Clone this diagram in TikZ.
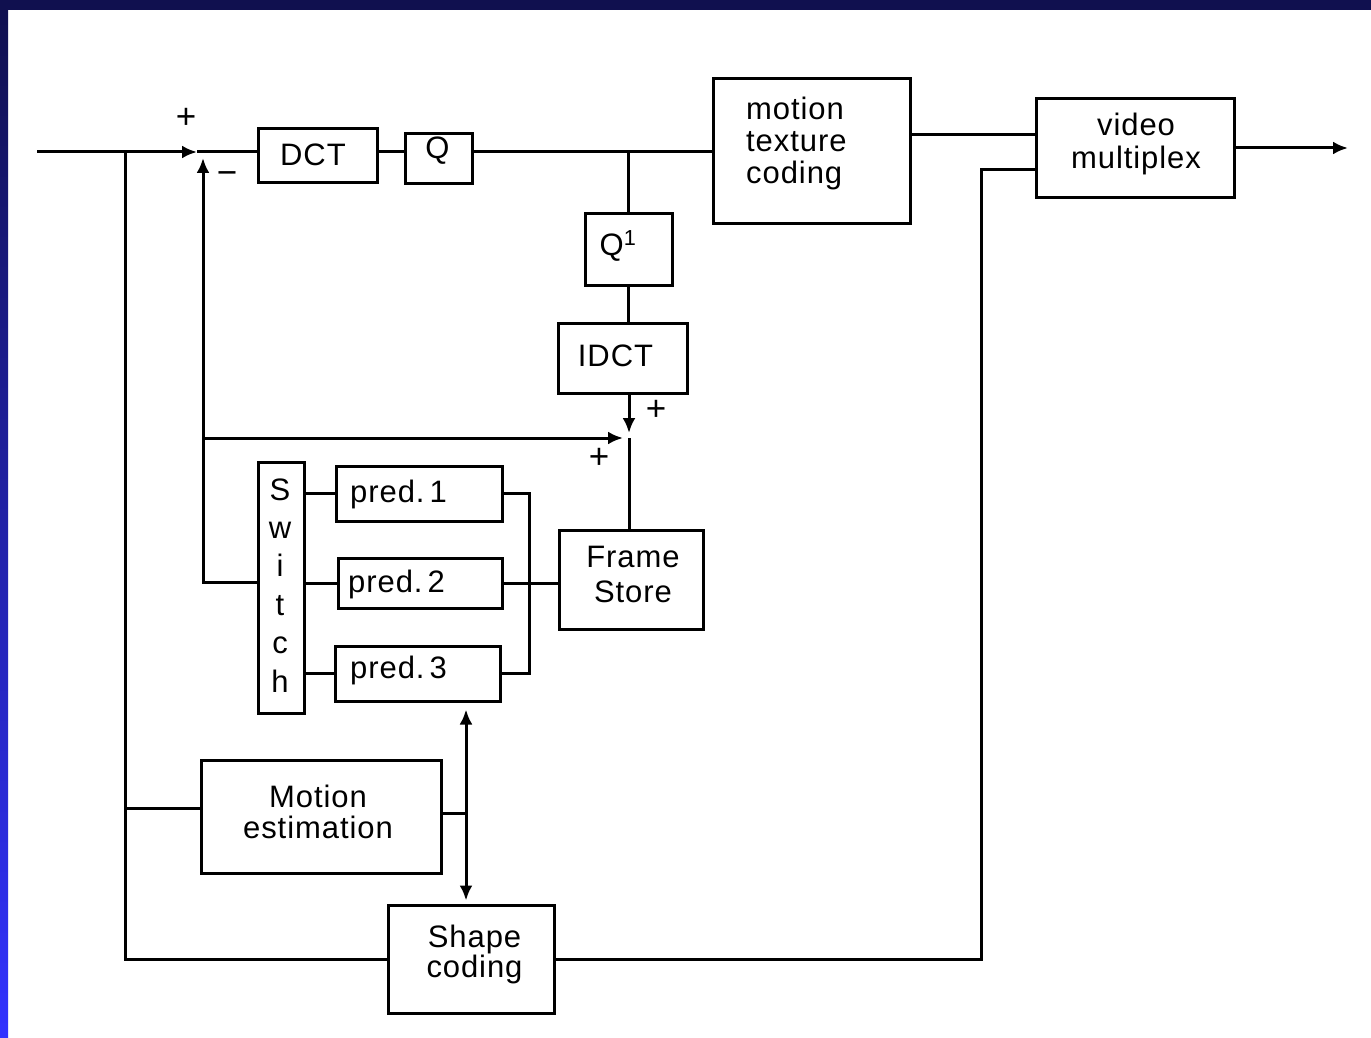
\documentclass[tikz,border=0pt]{standalone}
\usepackage{fontspec}
\setmainfont{Liberation Sans}[LetterSpace=3]
\usetikzlibrary{arrows.meta}
\definecolor{navyband}{HTML}{10104F}
\definecolor{blueband}{HTML}{3232FF}
\begin{document}
\begin{tikzpicture}[x=1pt,y=-1pt,
  blk/.style={draw, line width=3pt, inner sep=0pt, anchor=center},
  lbl/.style={font=\fontsize{31}{33}\selectfont, inner sep=0pt, anchor=base},
  sgn/.style={font=\fontsize{35}{37}\selectfont, inner sep=0pt, anchor=center},
  wire/.style={line width=3pt},
  arr/.style={wire, -{Latex[length=15pt,width=13pt]}},
  darr/.style={wire, {Latex[length=15pt,width=13pt]}-{Latex[length=15pt,width=13pt]}}]
\useasboundingbox (0,0) rectangle (1371,1038);
\fill[white] (0,0) rectangle (1371,1038);
\fill[navyband] (0,0) rectangle (1371,10);
\shade[top color=navyband, bottom color=blueband] (0,10) rectangle (8,1038);

% boxes
\node[blk, minimum width=119, minimum height=53] (dct) at (317.5,155.5) {};
\node[blk, minimum width=67, minimum height=49] (q) at (438.5,158.5) {};
\node[blk, minimum width=197, minimum height=144] (mtc) at (811.5,151) {};
\node[blk, minimum width=198, minimum height=98] (vm) at (1135,148) {};
\node[blk, minimum width=87, minimum height=72] (qi) at (628.5,249) {};
\node[blk, minimum width=129, minimum height=70] (idct) at (622.5,358) {};
\node[blk, minimum width=144, minimum height=99] (fs) at (631,579.5) {};
\node[blk, minimum width=46, minimum height=251] (sw) at (281,587.5) {};
\node[blk, minimum width=166, minimum height=55] (p1) at (419,493.5) {};
\node[blk, minimum width=164, minimum height=50] (p2) at (420,583) {};
\node[blk, minimum width=165, minimum height=55] (p3) at (417.5,673.5) {};
\node[blk, minimum width=240, minimum height=113] (me) at (321,816.5) {};
\node[blk, minimum width=166, minimum height=108] (sc) at (471,959) {};

% texts (multi-line nodes: base = last line)
\node[lbl] (dctt) at (313,166) {DCT};
\node[lbl] (qt) at (437.5,158) {Q};
\node[lbl] (qit) at (618,255) {Q\textsuperscript{1}};
\node[lbl] (idctt) at (615.5,366) {IDCT};
\node[lbl, anchor=base west, align=left, font=\fontsize{31}{32}\selectfont] (mtct) at (746,183) {motion\\texture\\coding};
\node[lbl, align=center] (vmt) at (1136,168) {video\\multiplex};
\node[lbl, align=center, font=\fontsize{31}{35}\selectfont] (fst) at (633,602) {Frame\\Store};
\node[lbl, align=center, font=\fontsize{31}{31}\selectfont] (met) at (318,838) {Motion\\estimation};
\node[lbl, align=center, font=\fontsize{31}{30}\selectfont] (sct) at (474.5,977) {Shape\\coding};
\node[lbl, anchor=base west] (p1t) at (350,502) {pred.\,1};
\node[lbl, anchor=base west] (p2t) at (348,592) {pred.\,2};
\node[lbl, anchor=base west] (p3t) at (350,678) {pred.\,3};
\node[lbl, align=center, font=\fontsize{31}{38.4}\selectfont] (swt) at (280,692) {S\\w\\i\\t\\c\\h};

% signs
\node[sgn] (pl1) at (186,118) {+};
\node[sgn] (mi1) at (227,178) {−};
\node[sgn] (pl2) at (656,410) {+};
\node[sgn] (pl3) at (599,458) {+};

% coordinates
\coordinate (in) at (37,152);
\coordinate (tap) at (125,152);
\coordinate (sum1) at (203,152);
\coordinate (sum2) at (629,438);
\coordinate (mainy) at (0,152);
\coordinate (mey) at (0,808);
\coordinate (fbB) at (203,582);
\coordinate (bus) at (529,0);
\coordinate (mv) at (466,813);
\coordinate (rt) at (981,170);
\coordinate (out) at (1348,148);
\coordinate (mtco) at (910,135);
\coordinate (p3b) at ([yshift=-7pt]p3.south);
\coordinate (scb) at ([yshift=3pt]sc.north);

% wires
\draw[arr] (in) -- ([xshift=-6pt]sum1);
\draw[wire] ([xshift=-6pt]sum1) -- (dct.west |- mainy);
\draw[wire] (dct.east |- mainy) -- (q.west |- mainy);
\draw[wire] (q.east |- mainy) -- (mtc.west |- mainy);
\draw[wire] (qi.north |- mainy) -- (qi.north);
\draw[wire] (qi.south) -- (qi.south |- idct.north);
\draw[arr] (sum2 |- idct.south) -- ([yshift=5pt]sum2);
\draw[wire] (sum2) -- (sum2 |- fs.north);
\draw[wire] (tap) -- (tap |- sc.west) -- (sc.west);
\draw[wire] (tap |- mey) -- (me.west |- mey);
\draw[arr] (fbB -| sw.west) -- (fbB) -- ([yshift=-6pt]sum1);
\draw[arr] (fbB |- sum2) -- ([xshift=-6pt]sum2);
\draw[wire] (p1.west -| sw.east) -- (p1.west);
\draw[wire] (p2.west -| sw.east) -- (p2.west);
\draw[wire] (p3.west -| sw.east) -- (p3.west);
\draw[wire] (p1.east) -- (p1.east -| bus) -- (p3.east -| bus) -- (p3.east);
\draw[wire] (p2.east) -- (p2.east -| fs.west);
\draw[wire] (me.east |- mv) -- (mv);
\draw[darr] (p3b -| mv) -- (scb -| mv);
\draw[wire] (sc.east) -| (rt) -- (rt -| vm.west);
\draw[wire] (mtco) -- (mtco -| vm.west);
\draw[arr] (vm.east |- out) -- (out);
\end{tikzpicture}
\end{document}
